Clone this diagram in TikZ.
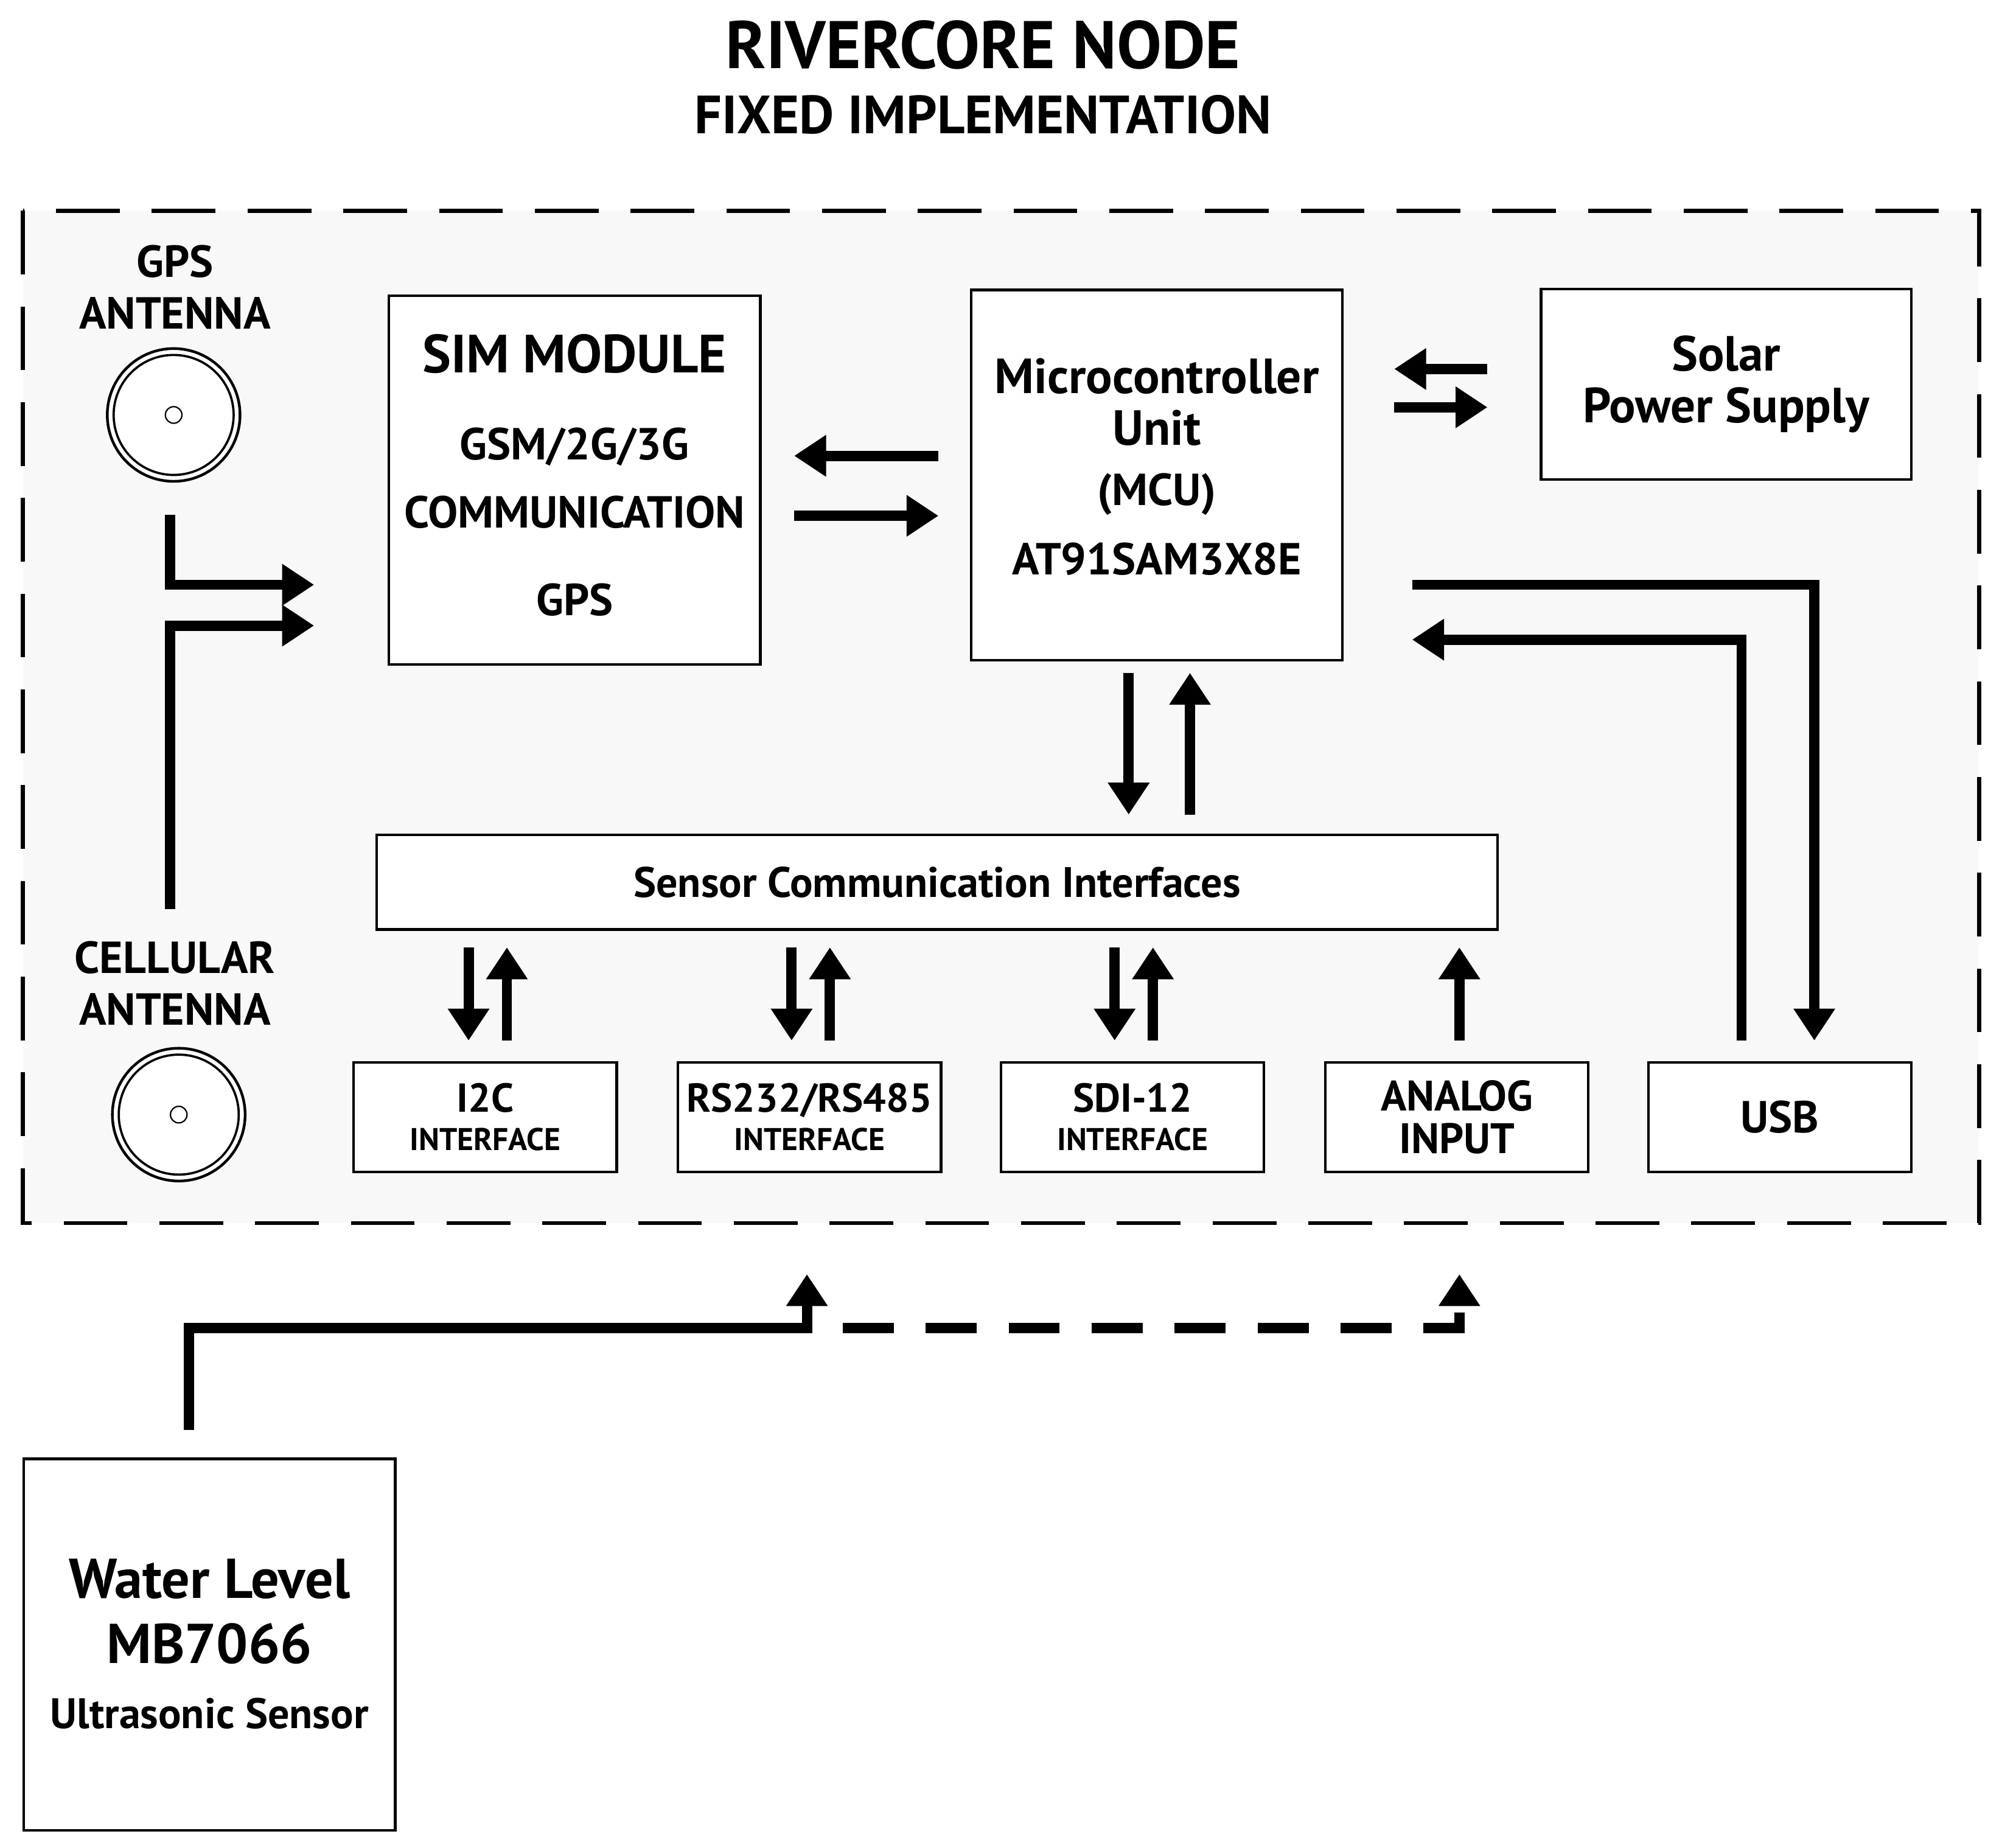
\documentclass[tikz,border=0pt]{standalone}
\usepackage{fontspec}
\setmainfont{PT Sans}
\usetikzlibrary{arrows.meta,positioning}

\tikzset{
  box/.style={draw=black,line width=1.2pt,fill=white,font=\bfseries,align=center,inner sep=1pt},
  txt/.style={font=\bfseries,align=center,inner sep=0pt},
  flow/.style={line width=4.6pt,-{Triangle[length=0.5cm,width=0.62cm]}},
}

\begin{document}
\begin{tikzpicture}[x=0.02cm,y=-0.02cm]
    \useasboundingbox (0,0) rectangle (1568,1447);
    % title
    \node[txt,font=\bfseries\fontsize{30}{34}\selectfont] (title) at (770,35) {RIVERCORE NODE};
    \node[txt,font=\bfseries\fontsize{24}{28}\selectfont] (subtitle) at (770,90) {FIXED IMPLEMENTATION};
    % node frame
    \draw[line width=1.8pt,dash pattern=on 1cm off 0.5cm,fill={rgb,255:red,248;green,248;blue,248}] (18,165) rectangle (1550,958);
    %
    \node[txt,font=\bfseries\fontsize{20}{23}\selectfont] (gpsant) at (137,225) {GPS\\ANTENNA};
    \node[txt,font=\bfseries\fontsize{20}{23}\selectfont] (cellant) at (137,770) {CELLULAR\\ANTENNA};
    \foreach \name/\y/\x in {gpsdish/325/136,celldish/873/140}{
      \draw[line width=1.2pt,fill=white] (\x,\y) circle (1.04cm);
      \draw[line width=1pt] (\x,\y) circle (0.94cm);
      \draw[line width=0.6pt] (\x,\y) circle (0.13cm);
      \coordinate (\name) at (\x,\y);
    }
    % main blocks
    \node[box,minimum width=5.82cm,minimum height=5.78cm] (sim) at (450,376) {};
    \node[txt,font=\bfseries\fontsize{24}{28}\selectfont] at (450,277) {SIM MODULE};
    \node[txt,font=\bfseries\fontsize{20}{24}\selectfont] at (450,350) {GSM/2G/3G};
    \node[txt,font=\bfseries\fontsize{20}{24}\selectfont] at (450,401) {COMMUNICATION};
    \node[txt,font=\bfseries\fontsize{20}{24}\selectfont] at (450,470) {GPS};
    %
    \node[box,minimum width=5.82cm,minimum height=5.8cm] (mcu) at (906,372) {};
    \node[txt,font=\bfseries\fontsize{22}{23}\selectfont] at (906,315) {Microcontroller\\Unit};
    \node[txt,font=\bfseries\fontsize{20}{24}\selectfont] at (906,387) {(MCU)};
    \node[txt,font=\bfseries\fontsize{20}{24}\selectfont] at (906,438) {AT91SAM3X8E};
    %
    \node[box,minimum width=5.8cm,minimum height=2.98cm,font=\bfseries\fontsize{22}{23}\selectfont] (solar) at (1352,301) {Solar\\Power Supply};
    \node[box,minimum width=17.56cm,minimum height=1.48cm,font=\bfseries\fontsize{19}{22}\selectfont] (sci) at (734,691) {Sensor Communication Interfaces};
    % interfaces
    \node[box,minimum width=4.12cm,minimum height=1.72cm,font=\bfseries\fontsize{18}{17}\selectfont] (i2c) at (380,875) {I2C\\{\fontsize{14}{17}\selectfont INTERFACE}};
    \node[box,minimum width=4.12cm,minimum height=1.72cm,font=\bfseries\fontsize{18}{17}\selectfont] (rs) at (634,875) {RS232/RS485\\{\fontsize{14}{17}\selectfont INTERFACE}};
    \node[box,minimum width=4.12cm,minimum height=1.72cm,font=\bfseries\fontsize{18}{17}\selectfont] (sdi) at (887,875) {SDI-12\\{\fontsize{14}{17}\selectfont INTERFACE}};
    \node[box,minimum width=4.12cm,minimum height=1.72cm,font=\bfseries\fontsize{19}{19}\selectfont] (analog) at (1141,875) {ANALOG\\INPUT};
    \node[box,minimum width=4.12cm,minimum height=1.72cm,font=\bfseries\fontsize{20}{24}\selectfont] (usb) at (1394,875) {USB};
    %
    \node[box,minimum width=5.82cm,minimum height=5.82cm] (water) at (164,1288) {};
    \node[txt,font=\bfseries\fontsize{25}{29}\selectfont] at (164,1262) {Water Level\\MB7066};
    \node[txt,font=\bfseries\fontsize{19}{22}\selectfont] at (164,1342) {Ultrasonic Sensor};
    %
    % arrows
    \draw[flow] (735,357) -- (622,357);
    \draw[flow] (622,404) -- (735,404);
    \draw[flow] (1165,289) -- (1092,289);
    \draw[flow] (1092,319) -- (1165,319);
    \draw[flow] (133,403) |- (246,458);
    \draw[flow] (133,712) |- (246,490);
    \draw[flow] (884,527) -- (884,638);
    \draw[flow] (932,638) -- (932,527);
    \foreach \x in {367,620,873}{
      \draw[flow] (\x,742) -- (\x,815);
      \draw[flow] (\x+30,815) -- (\x+30,742);
    }
    \draw[flow] (1143,815) -- (1143,742);
    \draw[flow] (1106,458) -| (1421,815);
    \draw[flow] (1364,815) |- (1106,501);
    % sensor wiring
    \draw[flow] (148,1120) |- (632,1040) -- (632,998);
    \draw[flow,dash pattern=on 0.8cm off 0.5cm] (660,1040) -| (1143,998);
\end{tikzpicture}
\end{document}
